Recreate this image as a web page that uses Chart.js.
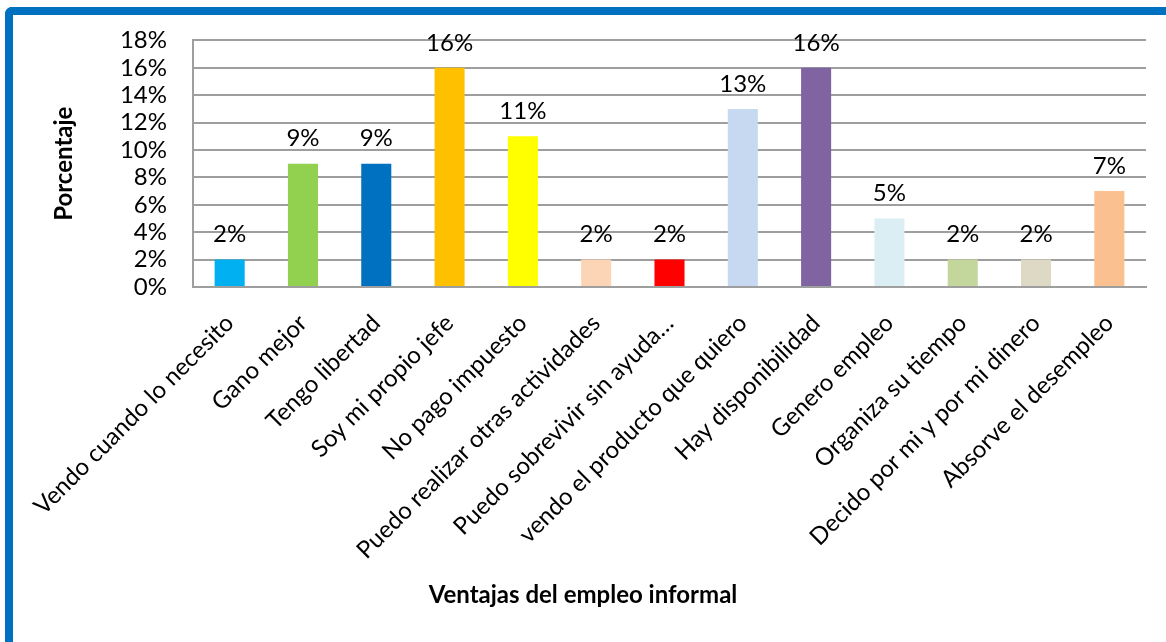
<!DOCTYPE html>
<html>
<head>
<meta charset="utf-8">
<script src="https://cdn.jsdelivr.net/npm/chart.js@4/dist/chart.umd.min.js"></script>
<style>
  html, body { margin: 0; padding: 0; background: #fff; }
  #wrap { position: relative; width: 1166px; height: 642px; overflow: hidden; }
  #frame {
    position: absolute; left: 5px; top: 7px; width: 1200px; height: 700px;
    border-top: 8px solid #0070C0; border-left: 8px solid #0070C0;
    border-top-left-radius: 7px;
  }
  #chart { position: absolute; left: 0; top: 0; }
</style>
</head>
<body>
<div id="wrap">
  <div id="frame"></div>
  <canvas id="chart" width="1166" height="642"></canvas>
</div>
<script>
// datos del grafico
const categorias = [
  "Vendo cuando lo necesito",
  "Gano mejor",
  "Tengo libertad",
  "Soy mi propio jefe",
  "No pago impuesto",
  "Puedo realizar otras actividades",
  "Puedo sobrevivir sin ayuda…",
  "vendo el producto que quiero",
  "Hay disponibilidad",
  "Genero empleo",
  "Organiza su tiempo",
  "Decido por mi y por mi dinero",
  "Absorve el desempleo"
];
const porcentajes = [2, 9, 9, 16, 11, 2, 2, 13, 16, 5, 2, 2, 7];
const colores = [
  "#00B0F0", "#92D050", "#0070C0", "#FFC000", "#FFFF00", "#FBD5B5", "#FF0000",
  "#C6D9F1", "#8064A2", "#DBEEF4", "#C3D69B", "#DDD9C4", "#FAC090"
];
const tituloX = "Ventajas del empleo informal";

const fuente = "Lato, 'Open Sans', sans-serif";

// etiquetas de valor encima de cada barra + titulo del eje X
const etiquetasValor = {
  id: "etiquetasValor",
  afterDatasetsDraw(chart) {
    const ctx = chart.ctx;
    const meta = chart.getDatasetMeta(0);
    ctx.save();
    ctx.font = "24px " + fuente;
    ctx.fillStyle = "#000";
    ctx.textAlign = "center";
    ctx.textBaseline = "bottom";
    meta.data.forEach(function (bar, i) {
      ctx.fillText(porcentajes[i] + "%", bar.x, bar.y - 13);
    });
    // titulo del eje X centrado en el lienzo (como en Excel)
    ctx.font = "bold 24px " + fuente;
    ctx.textBaseline = "middle";
    ctx.fillText(tituloX, chart.width / 2, 595);
    ctx.restore();
  }
};

new Chart(document.getElementById("chart").getContext("2d"), {
  type: "bar",
  data: {
    labels: categorias,
    datasets: [{
      data: porcentajes,
      backgroundColor: colores,
      borderWidth: 0,
      barPercentage: 0.41,
      categoryPercentage: 1
    }]
  },
  options: {
    responsive: false,
    animation: false,
    layout: { padding: { left: 50, top: 40, right: 20, bottom: 28 } },
    plugins: {
      legend: { display: false },
      tooltip: { enabled: false }
    },
    scales: {
      y: {
        min: 0,
        max: 18,
        afterFit: function (scale) { scale.width = 143; },
        ticks: {
          stepSize: 2,
          autoSkip: false,
          padding: 26,
          color: "#000",
          font: { family: fuente, size: 24 },
          callback: function (v) { return v + "%"; }
        },
        grid: { color: "#9e9e9e", lineWidth: 2, drawTicks: false },
        border: { color: "#9e9e9e", width: 2 },
        title: {
          display: true,
          text: "Porcentaje",
          color: "#000",
          font: { family: fuente, size: 24, weight: "bold" },
          padding: 0
        }
      },
      x: {
        afterFit: function (scale) { scale.height = 327; },
        ticks: {
          minRotation: 45,
          maxRotation: 45,
          autoSkip: false,
          padding: 14,
          color: "#000",
          font: { family: fuente, size: 24 }
        },
        grid: { display: false },
        border: { color: "#9e9e9e", width: 2 }
      }
    }
  },
  plugins: [etiquetasValor]
});
</script>
</body>
</html>
